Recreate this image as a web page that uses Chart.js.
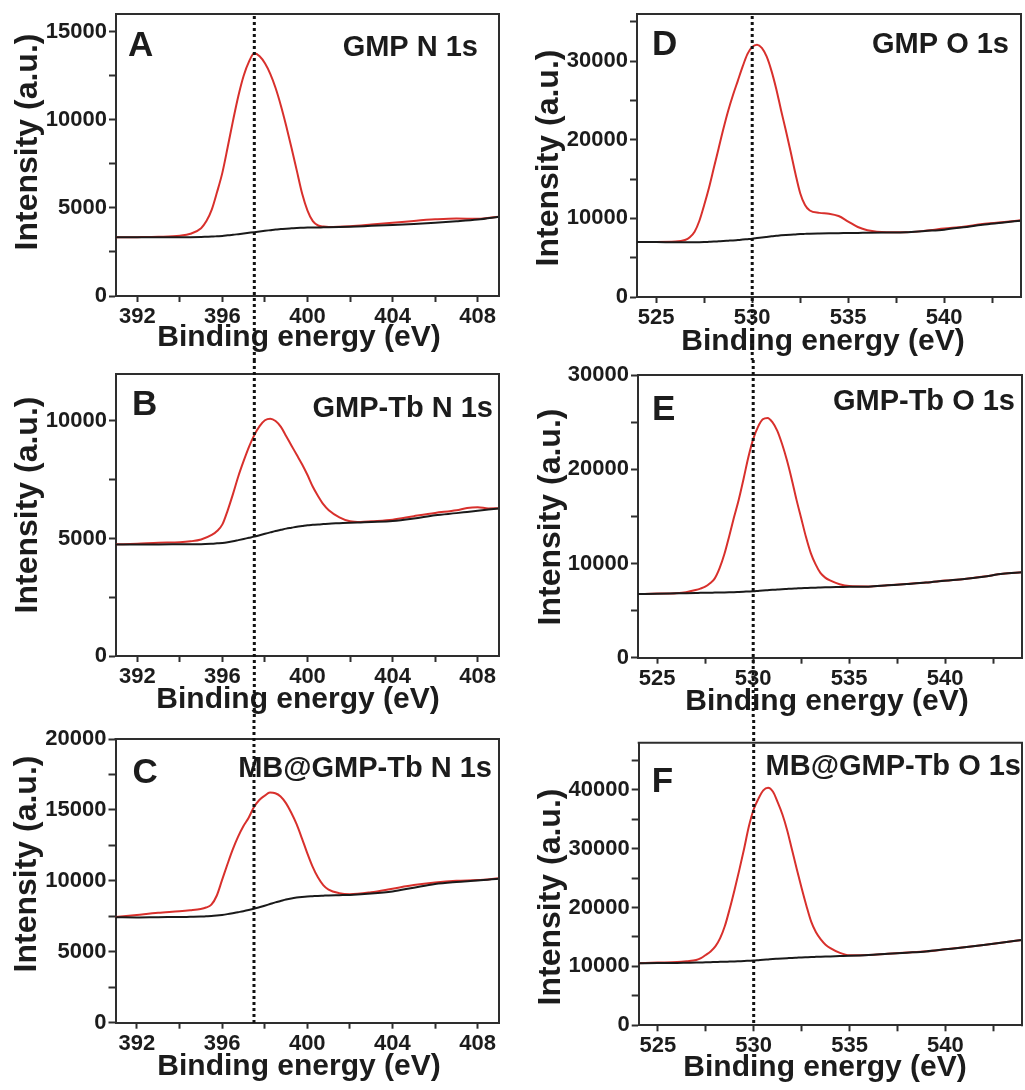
<!DOCTYPE html>
<html>
<head>
<meta charset="utf-8">
<script src="https://cdn.jsdelivr.net/npm/chart.js@4.4.1/dist/chart.umd.min.js"></script>
<style>
html,body{margin:0;padding:0;background:#ffffff;}
#wrap{position:relative;width:1025px;height:1090px;overflow:hidden;background:#ffffff;}
#wrap canvas{position:absolute;display:block;}
</style>
</head>
<body>
<div id="wrap">
<canvas id="cA"></canvas>
<canvas id="cB"></canvas>
<canvas id="cC"></canvas>
<canvas id="cD"></canvas>
<canvas id="cE"></canvas>
<canvas id="cF"></canvas>
</div>
<script>
// ---------------- data ----------------
// A: GMP N 1s
const aEnergy     = [391,392,393,394,394.5,395,395.25,395.5,395.75,396,396.25,396.5,396.75,397,397.25,397.5,397.75,398,398.25,398.5,398.75,399,399.25,399.5,399.75,400,400.25,400.5,400.75,401,402,403,404,405,406,407,408,409];
const aSignal     = [3330,3340,3360,3420,3530,3850,4250,4900,5900,7000,8450,9950,11350,12500,13300,13770,13600,13200,12600,11800,10800,9650,8400,7100,5800,4850,4250,4000,3940,3920,3960,4050,4150,4260,4350,4400,4380,4500];
const aBackground = [3330,3330,3330,3335,3340,3350,3360,3370,3390,3410,3440,3470,3510,3550,3585,3620,3660,3700,3735,3770,3795,3820,3840,3860,3870,3880,3885,3890,3895,3900,3930,3980,4030,4090,4160,4240,4340,4500];

// B: GMP-Tb N 1s
const bEnergy     = [391,392,393,394,394.5,395,395.5,395.75,396,396.25,396.5,396.75,397,397.25,397.5,397.75,398,398.25,398.5,398.75,399,399.25,399.5,399.75,400,400.25,400.5,400.75,401,401.5,402,402.5,403,404,405,406,407,407.5,408,408.5,409];
const bSignal     = [4750,4780,4820,4840,4880,4960,5150,5320,5600,6200,6900,7650,8300,8900,9400,9780,10030,10100,10000,9750,9350,8950,8550,8150,7700,7200,6800,6450,6200,5900,5730,5700,5730,5800,5950,6090,6200,6300,6330,6280,6290];
const bBackground = [4750,4750,4750,4755,4757,4760,4780,4795,4810,4840,4880,4930,4980,5030,5080,5140,5200,5260,5320,5370,5420,5460,5500,5530,5560,5580,5600,5615,5630,5650,5670,5685,5700,5740,5850,5990,6080,6130,6180,6230,6280];

// C: MB@GMP-Tb N 1s
const cEnergy     = [391,392,393,394,394.5,395,395.25,395.5,395.75,396,396.25,396.5,396.75,397,397.25,397.5,397.75,398,398.25,398.5,398.75,399,399.25,399.5,399.75,400,400.25,400.5,400.75,401,401.5,402,403,404,405,406,407,408,409];
const cSignal     = [7450,7600,7750,7860,7930,8020,8120,8320,8950,10050,11150,12200,13100,13850,14450,15200,15700,16000,16220,16180,15950,15480,14800,14000,13000,11950,11000,10250,9700,9380,9130,9060,9200,9450,9700,9880,10000,10060,10180];
const cBackground = [7430,7420,7440,7450,7465,7480,7500,7520,7555,7600,7655,7720,7790,7860,7940,8030,8140,8250,8365,8480,8580,8680,8760,8820,8865,8900,8920,8940,8955,8970,8990,9010,9100,9250,9520,9780,9920,10020,10150];

// D: GMP O 1s
const dEnergy     = [524,525,526,526.5,526.75,527,527.25,527.5,527.75,528,528.25,528.5,528.75,529,529.25,529.5,529.75,530,530.25,530.5,530.75,531,531.25,531.5,531.75,532,532.25,532.5,532.75,533,533.5,534,534.5,535,535.5,536,537,538,539,540,541,542,543,544];
const dSignal     = [7000,7000,7050,7250,7600,8300,9700,11700,13900,16400,18900,21400,23700,25700,27500,29300,30900,31800,32100,31700,30600,28800,26500,23800,21200,18500,15700,13200,11700,11000,10700,10600,10300,9600,8900,8500,8250,8250,8420,8700,8950,9280,9500,9750];
const dBackground = [7000,6990,6970,6965,6962,6960,6970,6990,7020,7050,7085,7120,7160,7200,7250,7300,7360,7420,7495,7570,7645,7720,7780,7840,7890,7930,7965,8000,8030,8060,8090,8110,8120,8140,8150,8170,8200,8230,8400,8570,8870,9200,9450,9710];

// E: GMP-Tb O 1s
const eEnergy     = [524,525,526,526.5,527,527.25,527.5,527.75,528,528.25,528.5,528.75,529,529.25,529.5,529.75,530,530.25,530.5,530.75,531,531.25,531.5,531.75,532,532.25,532.5,532.75,533,533.25,533.5,533.75,534,534.5,535,536,537,538,539,540,541,542,543,544];
const eSignal     = [6760,6800,6850,6950,7180,7330,7530,7900,8420,9500,11000,12900,14900,16800,19000,21300,23200,24500,25300,25450,25000,24100,22700,21000,19000,16800,14800,12800,11100,9900,9000,8500,8200,7800,7600,7560,7690,7830,7980,8180,8360,8610,8900,9060];
const eBackground = [6760,6790,6830,6850,6870,6880,6890,6900,6910,6920,6930,6940,6950,6975,7000,7025,7050,7085,7120,7160,7200,7235,7270,7300,7330,7355,7380,7400,7420,7435,7450,7465,7480,7500,7520,7540,7680,7820,7970,8170,8350,8600,8900,9060];

// F: MB@GMP-Tb O 1s
const fEnergy     = [524,525,526,526.5,527,527.25,527.5,527.75,528,528.25,528.5,528.75,529,529.25,529.5,529.75,530,530.25,530.5,530.75,531,531.25,531.5,531.75,532,532.25,532.5,532.75,533,533.25,533.5,533.75,534,534.5,535,536,537,538,539,540,541,542,543,544];
const fSignal     = [10530,10650,10760,10900,11100,11400,11950,12550,13400,14800,16900,19800,23000,26400,30000,33800,36700,38500,39900,40350,39700,37900,35800,33100,29800,26500,23300,20300,17600,15800,14600,13700,13100,12300,11900,11960,12160,12350,12560,12900,13260,13650,14060,14500];
const fBackground = [10530,10570,10600,10630,10660,10680,10700,10725,10750,10775,10800,10825,10850,10885,10920,10960,11000,11060,11120,11185,11250,11300,11350,11400,11450,11490,11530,11565,11600,11625,11650,11675,11700,11750,11800,11940,12150,12340,12550,12900,13250,13640,14050,14500];

// ticks
const nMajorTicks = [392,396,400,404,408];
const nMinorTicks = [394,398,402,406];
const oMajorTicks = [525,530,535,540];
const oMinorTicks = [527.5,532.5,537.5,542.5];

const yMajorA = [0,5000,10000,15000];          const yMinorA = [2500,7500,12500];
const yMajorB = [0,5000,10000];                const yMinorB = [2500,7500];
const yMajorC = [0,5000,10000,15000,20000];    const yMinorC = [2500,7500,12500,17500];
const yMajorD = [0,10000,20000,30000];         const yMinorD = [5000,15000,25000,35000];
const yMajorE = [0,10000,20000,30000];         const yMinorE = [5000,15000,25000];
const yMajorF = [0,10000,20000,30000,40000];   const yMinorF = [5000,15000,25000,35000,45000];

const letters = ['A','B','C','D','E','F'];
const labels  = ['GMP N 1s','GMP-Tb N 1s','MB@GMP-Tb N 1s','GMP O 1s','GMP-Tb O 1s','MB@GMP-Tb O 1s'];
const xTitle = 'Binding energy (eV)';
const yTitle = 'Intensity (a.u.)';
const refN = 397.5;
const refO = 530;

// ---------------- style ----------------
const FONT = '"Liberation Sans", Arial, Helvetica, sans-serif';
const TEXT = '#1c1c1c';
const AXIS = '#2e2e2e';
const RED  = '#d8302c';
const BLACK = '#1a1a1a';

function pts(xs, ys){ return xs.map((x,i)=>({x:x, y:ys[i]})); }

const decor = {
  id: 'decor',
  afterDraw(chart, args, o) {
    const ctx = chart.ctx, a = chart.chartArea;
    ctx.save();
    // top and right frame
    ctx.strokeStyle = AXIS; ctx.lineWidth = 2; ctx.setLineDash([]);
    ctx.beginPath();
    ctx.moveTo(a.left - 1, a.top); ctx.lineTo(a.right, a.top); ctx.lineTo(a.right, a.bottom + 1);
    ctx.stroke();
    ctx.fillStyle = TEXT;
    // axis titles
    ctx.textAlign = 'center'; ctx.textBaseline = 'middle';
    ctx.font = 'bold 30px ' + FONT;
    ctx.fillText(xTitle, o.xTitlePos[0], o.xTitlePos[1]);
    ctx.save();
    ctx.translate(o.yTitlePos[0], o.yTitlePos[1]);
    ctx.rotate(-Math.PI / 2);
    ctx.font = 'bold 32px ' + FONT;
    ctx.fillText(yTitle, 0, 0);
    ctx.restore();
    // panel letter and label
    ctx.textBaseline = 'alphabetic';
    ctx.font = 'bold 35px ' + FONT; ctx.textAlign = 'left';
    ctx.fillText(o.letter, a.left + o.letterDx, a.top + o.letterDy);
    ctx.font = 'bold 29px ' + FONT; ctx.textAlign = 'right';
    ctx.fillText(o.label, a.right + o.labelDx, a.top + o.labelDy);
    // dotted reference line
    const x = chart.scales.x.getPixelForValue(o.refValue);
    const y0 = o.span === 'first' ? a.top : 0;
    const y1 = o.span === 'last' ? a.bottom : chart.height;
    ctx.strokeStyle = '#111111'; ctx.lineWidth = 3;
    ctx.setLineDash([3,3]);
    ctx.lineDashOffset = -((o.pageTop + y0) % 6);
    ctx.beginPath(); ctx.moveTo(x, y0); ctx.lineTo(x, y1); ctx.stroke();
    ctx.restore();
  }
};

function xScale(range, majors, minors) {
  const all = majors.concat(minors).sort((p,q)=>p-q);
  return {
    type: 'linear', position: 'bottom', min: range[0], max: range[1],
    afterBuildTicks: s => { s.ticks = all.map(v => ({value: v})); },
    afterFit: s => { s.height = 62; },
    ticks: {
      autoSkip: false, maxRotation: 0, minRotation: 0, padding: 4, color: TEXT,
      font: {family: FONT, size: 22, weight: 'bold', lineHeight: 1},
      callback: v => majors.indexOf(v) >= 0 ? String(v) : ''
    },
    grid: {drawOnChartArea: false, drawTicks: true, tickLength: 6, tickWidth: 2, tickColor: AXIS},
    border: {display: true, color: AXIS, width: 2},
    title: {display: false}
  };
}

function yScale(max, majors, minors, width) {
  const all = majors.concat(minors).sort((p,q)=>p-q);
  return {
    type: 'linear', position: 'left', min: 0, max: max,
    afterBuildTicks: s => { s.ticks = all.map(v => ({value: v})); },
    afterFit: s => { s.width = width; },
    ticks: {
      autoSkip: false, padding: 2, color: TEXT,
      font: {family: FONT, size: 22, weight: 'bold', lineHeight: 1},
      callback: v => majors.indexOf(v) >= 0 ? String(v) : ''
    },
    grid: {drawOnChartArea: false, drawTicks: true, tickLength: 7, tickWidth: 2, tickColor: AXIS},
    border: {display: true, color: AXIS, width: 2},
    title: {display: false}
  };
}

// layout (page coordinates of each panel's canvas and plot box)
const panels = [
  {id:'cA', left:0,   top:0,   w:512, h:360, plot:{l:116,   r:499, t:14,   b:296},
   energy:aEnergy, sig:aSignal, bg:aBackground, xr:[391,409], xm:nMajorTicks, xn:nMinorTicks, ymax:16000, ym:yMajorA, yn:yMinorA,
   ref:refN, span:'first', lt:[12,42], lb:[-21,42], xt:[299,338], yt:[28,142]},
  {id:'cB', left:0,   top:360, w:512, h:360, plot:{l:116,   r:499, t:14,   b:296},
   energy:bEnergy, sig:bSignal, bg:bBackground, xr:[391,409], xm:nMajorTicks, xn:nMinorTicks, ymax:12000, ym:yMajorB, yn:yMinorB,
   ref:refN, span:'mid', lt:[16,41], lb:[-6,43], xt:[298,700], yt:[28,505]},
  {id:'cC', left:0,   top:720, w:512, h:370, plot:{l:115.5, r:499, t:19,   b:302.7},
   energy:cEnergy, sig:cSignal, bg:cBackground, xr:[391,409], xm:nMajorTicks, xn:nMinorTicks, ymax:20000, ym:yMajorC, yn:yMinorC,
   ref:refN, span:'last', lt:[17,44], lb:[-7,38], xt:[299,1067], yt:[27,864]},
  {id:'cD', left:512, top:0,   w:513, h:360, plot:{l:125,   r:509, t:14,   b:297},
   energy:dEnergy, sig:dSignal, bg:dBackground, xr:[524,544], xm:oMajorTicks, xn:oMinorTicks, ymax:36000, ym:yMajorD, yn:yMinorD,
   ref:refO, span:'first', lt:[15,41], lb:[-12,39], xt:[823,342], yt:[549,158]},
  {id:'cE', left:512, top:360, w:513, h:360, plot:{l:126,   r:510, t:15,   b:297.7},
   energy:eEnergy, sig:eSignal, bg:eBackground, xr:[524,544], xm:oMajorTicks, xn:oMinorTicks, ymax:30000, ym:yMajorE, yn:yMinorE,
   ref:refO, span:'mid', lt:[14,45], lb:[-7,35], xt:[827,702], yt:[551,517]},
  {id:'cF', left:512, top:720, w:513, h:370, plot:{l:126.7, r:510, t:22.7, b:305.3},
   energy:fEnergy, sig:fSignal, bg:fBackground, xr:[524,544], xm:oMajorTicks, xn:oMinorTicks, ymax:48000, ym:yMajorF, yn:yMinorF,
   ref:refO, span:'last', lt:[13,49], lb:[-1,32], xt:[825,1068], yt:[551,897]}
];

panels.forEach((p, i) => {
  const cv = document.getElementById(p.id);
  cv.width = p.w; cv.height = p.h;
  cv.style.left = p.left + 'px'; cv.style.top = p.top + 'px';
  cv.style.width = p.w + 'px'; cv.style.height = p.h + 'px';
  const padLeft = 8;
  const yWidth = p.plot.l - padLeft;
  new Chart(cv.getContext('2d'), {
    type: 'line',
    data: {
      datasets: [
        {label: 'Background', data: pts(p.energy, p.bg), borderColor: BLACK, borderWidth: 2,
         pointRadius: 0, cubicInterpolationMode: 'monotone', fill: false},
        {label: 'Spectrum', data: pts(p.energy, p.sig), borderColor: RED, borderWidth: 2,
         pointRadius: 0, cubicInterpolationMode: 'monotone', fill: false}
      ]
    },
    options: {
      responsive: false, animation: false, devicePixelRatio: 1,
      layout: {padding: {left: padLeft, right: p.w - p.plot.r, top: p.plot.t, bottom: p.h - p.plot.b - 62}},
      scales: {
        x: xScale(p.xr, p.xm, p.xn),
        y: yScale(p.ymax, p.ym, p.yn, yWidth)
      },
      plugins: {
        legend: {display: false},
        tooltip: {enabled: false},
        decor: {letter: letters[i], label: labels[i], letterDx: p.lt[0], letterDy: p.lt[1],
                labelDx: p.lb[0], labelDy: p.lb[1], refValue: p.ref, span: p.span, pageTop: p.top,
                xTitlePos: [p.xt[0] - p.left, p.xt[1] - p.top], yTitlePos: [p.yt[0] - p.left, p.yt[1] - p.top]}
      }
    },
    plugins: [decor]
  });
});
</script>
</body>
</html>
